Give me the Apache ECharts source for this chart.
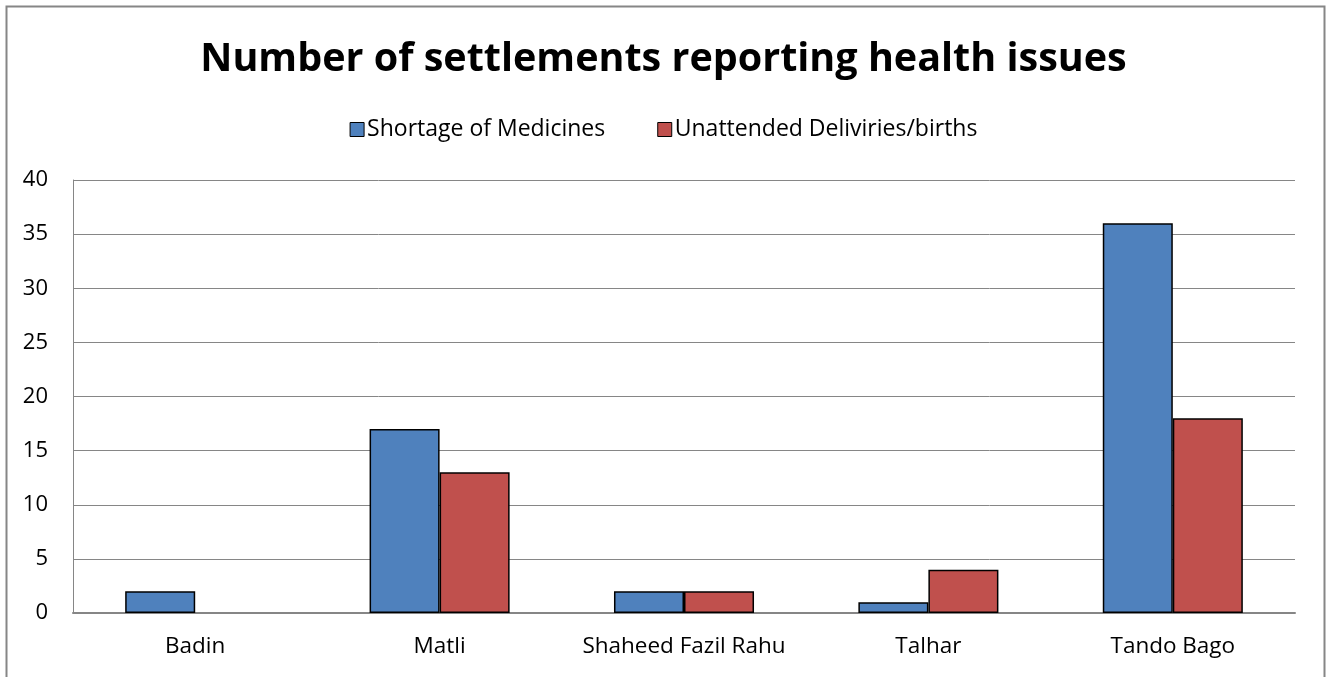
<!DOCTYPE html>
<html><head><meta charset="utf-8">
<script src="https://cdn.jsdelivr.net/npm/echarts@6/dist/echarts.min.js"></script>
<style>html,body{margin:0;padding:0;background:#fff}#c{width:1327px;height:677px}</style>
</head><body><div id="c"></div>
<script>
const categories = ['Badin', 'Matli', 'Shaheed Fazil Rahu', 'Talhar', 'Tando Bago'];
const shortageOfMedicines = [2, 17, 2, 1, 36];
const unattendedDeliveries = [0, 13, 2, 4, 18];
const seriesNames = ['Shortage of Medicines', 'Unattended Deliviries/births'];
const titleText = 'Number of settlements reporting health issues';

function toItems(arr) {
  return arr.map(v => v === 0 ? {value: v, itemStyle: {borderWidth: 0}} : v);
}

const chart = echarts.init(document.getElementById('c'), null, {renderer: 'canvas'});
const font = 'Open Sans';
chart.setOption({
  animation: false,
  backgroundColor: '#fff',
  graphic: [{
    type: 'rect', left: 4, top: 4, silent: true,
    shape: {x: 0, y: 0, width: 1318, height: 700},
    style: {fill: 'none', stroke: '#868686', lineWidth: 2}
  }],
  title: {
    text: titleText, left: 'center', top: 35,
    textStyle: {fontFamily: font, fontWeight: 'bold', fontSize: 39.5, color: '#000'}
  },
  legend: {
    top: 113, left: 'center', itemGap: 52, itemWidth: 14, itemHeight: 14,
    icon: 'rect',
    itemStyle: {borderColor: '#000', borderWidth: 1},
    textStyle: {fontFamily: font, fontSize: 23, color: '#000', padding: [0,0,0,-2]},
    data: seriesNames
  },
  grid: {left: 73, right: 32, top: 180, bottom: 64},
  xAxis: {
    type: 'category', data: categories,
    axisLine: {lineStyle: {color: '#868686', width: 2}},
    axisTick: {show: false},
    axisLabel: {fontFamily: font, fontSize: 22.5, color: '#000', margin: 22, interval: 0}
  },
  yAxis: {
    type: 'value', min: 0, max: 40, interval: 5,
    axisLine: {show: true, lineStyle: {color: '#868686', width: 1}},
    axisTick: {show: false},
    splitLine: {lineStyle: {color: '#868686', width: 1}},
    axisLabel: {fontFamily: font, fontSize: 22, color: '#000', margin: 25}
  },
  series: [
    {name: seriesNames[0], type: 'bar', data: toItems(shortageOfMedicines), barGap: '0%', barCategoryGap: '42.7%',
     itemStyle: {color: '#4F81BD', borderColor: '#000', borderWidth: 1.5}},
    {name: seriesNames[1], type: 'bar', data: toItems(unattendedDeliveries),
     itemStyle: {color: '#C0504D', borderColor: '#000', borderWidth: 1.5}}
  ]
});
</script></body></html>
